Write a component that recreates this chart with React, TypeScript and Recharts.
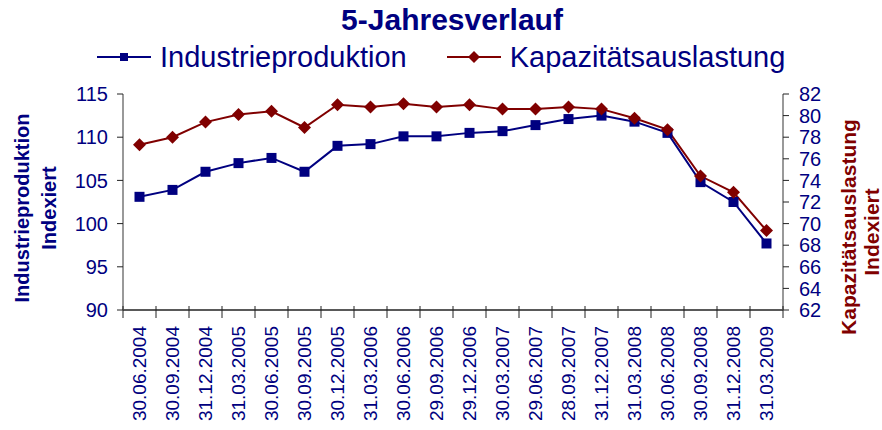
import React from "react";
import { LineChart, Line, XAxis, YAxis } from "recharts";

const dates = [
  "30.06.2004", "30.09.2004", "31.12.2004", "31.03.2005", "30.06.2005",
  "30.09.2005", "30.12.2005", "31.03.2006", "30.06.2006", "29.09.2006",
  "29.12.2006", "30.03.2007", "29.06.2007", "28.09.2007", "31.12.2007",
  "31.03.2008", "30.06.2008", "30.09.2008", "31.12.2008", "31.03.2009",
];
const industrie = [
  103.1, 103.9, 106.0, 107.0, 107.6, 106.0, 109.0, 109.2, 110.1, 110.1,
  110.5, 110.7, 111.4, 112.1, 112.5, 111.8, 110.5, 104.8, 102.5, 97.7,
];
const kapazitaet = [
  77.3, 78.0, 79.4, 80.1, 80.4, 78.9, 81.0, 80.8, 81.1, 80.8,
  81.0, 80.6, 80.6, 80.8, 80.6, 79.75, 78.7, 74.4, 72.9, 69.35,
];
const leftTicks = [90, 95, 100, 105, 110, 115];
const rightTicks = [62, 64, 66, 68, 70, 72, 74, 76, 78, 80, 82];

const data = dates.map((d, i) => ({ date: d, ind: industrie[i], kap: kapazitaet[i] }));

const BLUE = "#000080";
const RED = "#800000";
const FONT = "'Liberation Sans', Arial, sans-serif";
const PLOT_W = 660;
const HALF = PLOT_W / dates.length / 2; // half a category band
const TICK_GAP = 16;

const SquareDot = (p: any) => (
  <rect key={"s" + p.index} x={p.cx - 5} y={p.cy - 5} width={10} height={10} fill={BLUE} />
);
const DiamondDot = (p: any) => (
  <polygon
    key={"d" + p.index}
    points={`${p.cx},${p.cy - 6.5} ${p.cx + 6.5},${p.cy} ${p.cx},${p.cy + 6.5} ${p.cx - 6.5},${p.cy}`}
    fill={RED}
  />
);

// date label plus tick marks on the category boundaries
const DateTick = (p: any) => {
  const { x, y, payload, index } = p;
  const ay = y - TICK_GAP;
  return (
    <g>
      <line x1={x - HALF} x2={x - HALF} y1={ay - 4} y2={ay + 8} stroke="#222" />
      {index === dates.length - 1 && <line x1={x + HALF} x2={x + HALF} y1={ay - 4} y2={ay + 8} stroke="#222" />}
      <text
        x={x}
        y={y}
        transform={`rotate(-90, ${x}, ${y})`}
        textAnchor="end"
        dominantBaseline="central"
        fill={BLUE}
        fontSize={19}
        fontFamily={FONT}
      >
        {payload.value}
      </text>
    </g>
  );
};

const LeftTitle = (props: any) => {
  const { x, y, height } = props.viewBox;
  const cy = y + height / 2 + 6;
  return (
    <g fontWeight="bold" fontSize={20} textAnchor="middle">
      <text x={x + 24} y={cy} transform={`rotate(-90, ${x + 24}, ${cy})`} dominantBaseline="middle" fill={BLUE}>
        Industrieproduktion
      </text>
      <text x={x + 51} y={cy} transform={`rotate(-90, ${x + 51}, ${cy})`} dominantBaseline="middle" fill={BLUE}>
        Indexiert
      </text>
    </g>
  );
};

const RightTitle = (props: any) => {
  const { x, y, height } = props.viewBox;
  const cy = y + height / 2 + 25;
  return (
    <g fontWeight="bold" fontSize={21} textAnchor="middle">
      <text x={x + 67} y={cy} transform={`rotate(-90, ${x + 67}, ${cy})`} dominantBaseline="middle" fill={RED}>
        Kapazitätsauslastung
      </text>
      <text x={x + 90} y={cy + 5} transform={`rotate(-90, ${x + 90}, ${cy + 5})`} dominantBaseline="middle" fill={RED}>
        Indexiert
      </text>
    </g>
  );
};

function LegendItem({ color, label, marker }: { color: string; label: string; marker: "square" | "diamond" }) {
  return (
    <span style={{ display: "inline-flex", alignItems: "center" }}>
      <svg width={54} height={20} style={{ marginRight: 9 }}>
        <line x1={0} y1={10} x2={54} y2={10} stroke={color} strokeWidth={2} />
        {marker === "square" ? (
          <rect x={23} y={6} width={8} height={8} fill={color} />
        ) : (
          <polygon points="27,4 33,10 27,16 21,10" fill={color} />
        )}
      </svg>
      <span style={{ color: BLUE, fontSize: 29 }}>{label}</span>
    </span>
  );
}

export default function App(): JSX.Element {
  return (
    <div style={{ position: "absolute", left: 0, top: 0, width: 882, height: 430, background: "#fff", fontFamily: FONT }}>
      <div style={{ position: "absolute", top: 3, left: 0, width: 904, textAlign: "center", color: BLUE, fontWeight: "bold", fontSize: 30 }}>
        5-Jahresverlauf
      </div>
      <div style={{ position: "absolute", top: 40, left: 97, display: "flex", gap: 40, lineHeight: "34px" }}>
        <LegendItem color={BLUE} label="Industrieproduktion" marker="square" />
        <LegendItem color={RED} label="Kapazitätsauslastung" marker="diamond" />
      </div>
      <LineChart width={882} height={430} data={data} margin={{ top: 94, right: 0, bottom: 0, left: 0 }}>
        <XAxis
          dataKey="date"
          interval={0}
          height={120}
          padding={{ left: HALF, right: HALF }}
          tickLine={false}
          tickSize={0}
          tickMargin={TICK_GAP}
          axisLine={{ stroke: "#222", strokeWidth: 1.5 }}
          tick={<DateTick />}
        />
        <YAxis
          yAxisId="left"
          orientation="left"
          width={123}
          domain={[90, 115]}
          ticks={leftTicks}
          interval={0}
          tickSize={6}
          tickMargin={9}
          tickLine={{ stroke: "#222" }}
          axisLine={{ stroke: "#777", strokeWidth: 1.5 }}
          tick={{ fill: BLUE, fontSize: 20, fontFamily: FONT }}
          label={{ content: LeftTitle }}
        />
        <YAxis
          yAxisId="right"
          orientation="right"
          width={99}
          domain={[62, 82]}
          ticks={rightTicks}
          interval={0}
          tickSize={6}
          tickMargin={10}
          tickLine={{ stroke: "#222" }}
          axisLine={{ stroke: "#777", strokeWidth: 1.5 }}
          tick={{ fill: BLUE, fontSize: 20, fontFamily: FONT }}
          label={{ content: RightTitle }}
        />
        <Line
          yAxisId="left"
          dataKey="ind"
          stroke={BLUE}
          strokeWidth={2}
          dot={SquareDot}
          isAnimationActive={false}
        />
        <Line
          yAxisId="right"
          dataKey="kap"
          stroke={RED}
          strokeWidth={2}
          dot={DiamondDot}
          isAnimationActive={false}
        />
      </LineChart>
    </div>
  );
}
